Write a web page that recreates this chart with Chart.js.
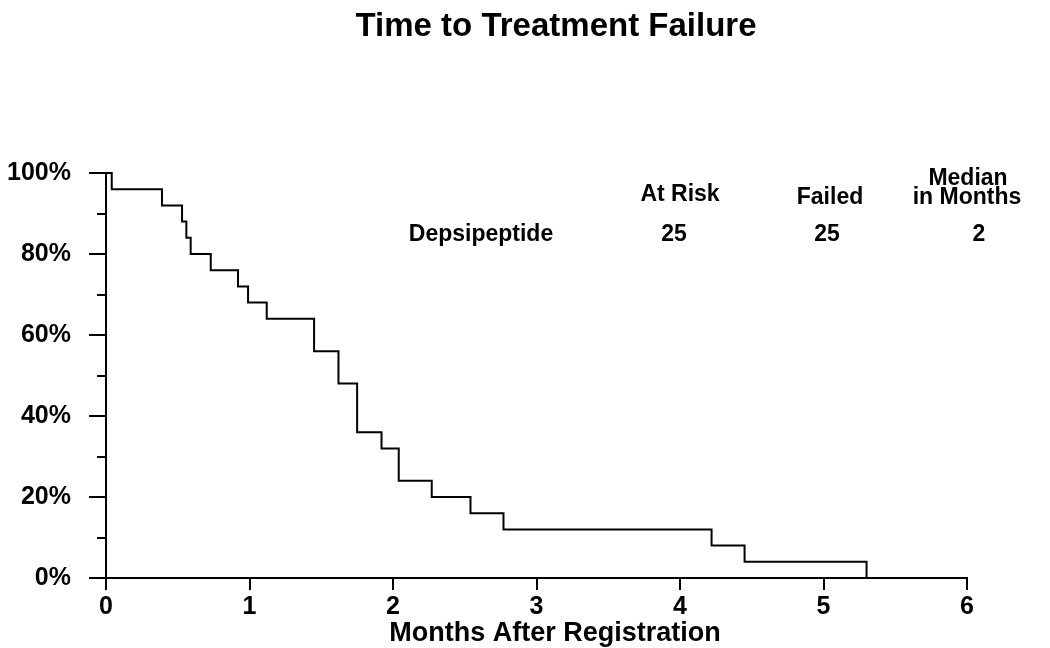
<!DOCTYPE html>
<html>
<head>
<meta charset="utf-8">
<title>Time to Treatment Failure</title>
<script src="https://cdn.jsdelivr.net/npm/chart.js@4"></script>
<style>
  html, body { margin: 0; padding: 0; background: #fff; }
</style>
</head>
<body>
<canvas id="kmChart" width="1050" height="648"></canvas>
<script>
// Kaplan-Meier steps (months, % without failure)
const months   = [0, 0.04, 0.39, 0.53, 0.56, 0.59, 0.73, 0.92, 0.99, 1.12, 1.45, 1.62, 1.75, 1.92, 2.04, 2.27, 2.54, 2.77, 4.22, 4.45, 5.30];
const survival = [100, 96, 92, 88, 84, 80, 76, 72, 68, 64, 56, 48, 36, 32, 24, 20, 16, 12, 8, 4, 0];

const xTicks = [0, 1, 2, 3, 4, 5, 6];
const yTicks = [0, 20, 40, 60, 80, 100];
const yMinorTicks = [10, 30, 50, 70, 90];

const chartTitle = "Time to Treatment Failure";
const xTitle = "Months After Registration";

const groupName = "Depsipeptide";
const columnHeads = ["At Risk", "Failed", "Median", "in Months"];
const columnValues = ["25", "25", "2"];

const FONT = "'Liberation Sans', Arial, Helvetica, sans-serif";

const points = months.map((m, i) => ({ x: m, y: survival[i] }));

// extra text + minor ticks
const kmText = {
  id: "kmText",
  afterDraw(chart) {
    const ctx = chart.ctx;
    const yScale = chart.scales.y;
    const left = chart.chartArea.left;
    ctx.save();

    ctx.strokeStyle = "#000";
    ctx.lineWidth = 2;
    yMinorTicks.forEach(v => {
      const py = Math.round(yScale.getPixelForValue(v));
      ctx.beginPath();
      ctx.moveTo(left - 9, py);
      ctx.lineTo(left, py);
      ctx.stroke();
    });

    ctx.fillStyle = "#000";
    ctx.textAlign = "center";
    ctx.textBaseline = "middle";

    ctx.font = "bold 33px " + FONT;
    ctx.fillText(chartTitle, 556, 27);

    ctx.font = "bold 27px " + FONT;
    ctx.fillText(xTitle, 555, 634);

    ctx.font = "bold 23px " + FONT;
    ctx.fillText(columnHeads[0], 680, 195);
    ctx.fillText(columnHeads[1], 830, 198);
    ctx.fillText(columnHeads[2], 968, 179);
    ctx.fillText(columnHeads[3], 967, 198);

    ctx.fillText(groupName, 481, 235);
    ctx.fillText(columnValues[0], 674, 235);
    ctx.fillText(columnValues[1], 827, 235);
    ctx.fillText(columnValues[2], 979, 235);

    ctx.restore();
  }
};

const canvas = document.getElementById("kmChart");
const kmChart = new Chart(canvas.getContext("2d"), {
  type: "line",
  data: {
    datasets: [{
      data: points,
      stepped: true,
      borderColor: "#000",
      borderWidth: 2,
      pointRadius: 0,
      fill: false,
      clip: 6
    }]
  },
  options: {
    responsive: false,
    animation: false,
    layout: { padding: { top: 173, right: 83, bottom: 0, left: 0 } },
    plugins: {
      legend: { display: false },
      tooltip: { enabled: false },
      title: { display: false }
    },
    scales: {
      x: {
        type: "linear",
        min: 0,
        max: 6,
        afterFit: s => { s.height = 70; },
        afterBuildTicks: s => { s.ticks = xTicks.map(v => ({ value: v })); },
        grid: { drawOnChartArea: false, drawTicks: true, tickLength: 12, color: "#000", lineWidth: 2 },
        border: { display: true, color: "#000", width: 2 },
        ticks: {
          padding: 2,
          color: "#000",
          font: { family: FONT, size: 25, weight: "bold" },
          maxRotation: 0
        }
      },
      y: {
        min: 0,
        max: 100,
        afterFit: s => { s.width = 106; },
        afterBuildTicks: s => { s.ticks = yTicks.map(v => ({ value: v })); },
        grid: { drawOnChartArea: false, drawTicks: true, tickLength: 17, color: "#000", lineWidth: 2 },
        border: { display: true, color: "#000", width: 2 },
        ticks: {
          padding: 18,
          color: "#000",
          font: { family: FONT, size: 25, weight: "bold" },
          callback: v => v + "%"
        }
      }
    }
  },
  plugins: [kmText]
});
</script>
</body>
</html>
